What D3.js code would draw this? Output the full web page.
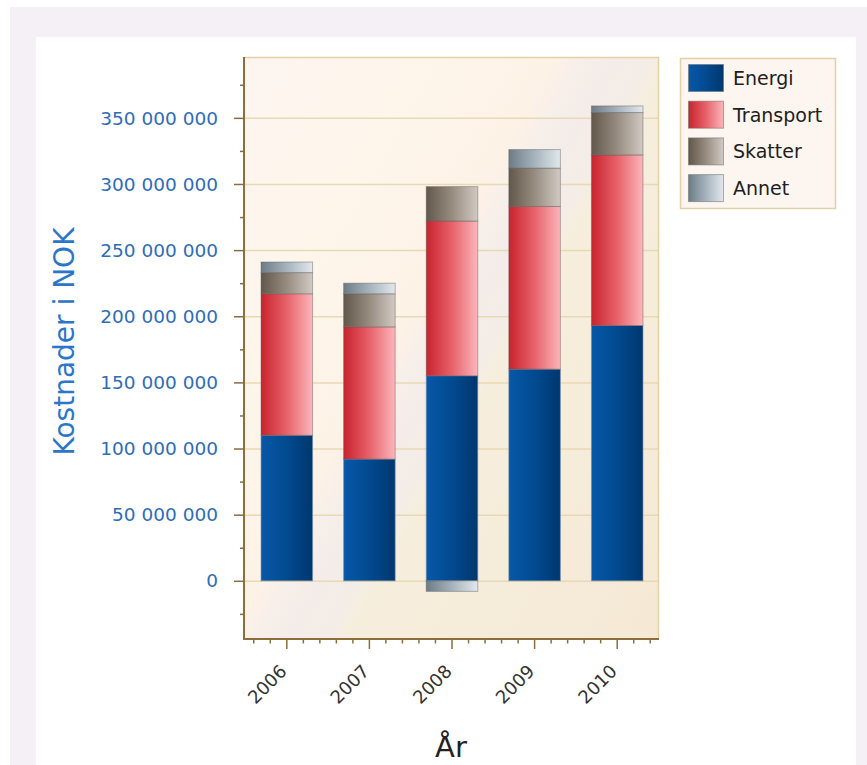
<!DOCTYPE html>
<html>
<head>
<meta charset="utf-8">
<script src="https://cdn.jsdelivr.net/npm/d3@7"></script>
<style>
  html, body { margin: 0; padding: 0; background: #ffffff; }
  svg { display: block; }
  text { font-family: "DejaVu Sans", Verdana, sans-serif; }
</style>
</head>
<body>
<svg id="chart" width="867" height="765"></svg>
<script>
// ---- data ----
const years = ["2006", "2007", "2008", "2009", "2010"];
const seriesNames = ["Energi", "Transport", "Skatter", "Annet"];
const energi    = [110e6,  92e6, 155e6, 160e6, 193e6];
const transport = [107e6, 100e6, 117e6, 123e6, 129e6];
const skatter   = [ 16e6,  25e6,  26e6,  29e6,  32e6];
const annet     = [  8e6,   8e6,  -8e6,  14e6,   5e6];
const yMajorTicks = [0, 50e6, 100e6, 150e6, 200e6, 250e6, 300e6, 350e6];
const yMinorTicks = [-25e6, 25e6, 75e6, 125e6, 175e6, 225e6, 275e6, 325e6, 375e6];
const yTitle = "Kostnader i NOK";
const xTitle = "År";

// gradient colours per series [left, mid, right]
const seriesGrad = {
  Energi:    ["#0758a8", "#024a90", "#00376e"],
  Transport: ["#c8232e", "#e7626a", "#fbb6bb"],
  Skatter:   ["#62574b", "#978c80", "#d1cac3"],
  Annet:     ["#6c7c87", "#a6b3bc", "#e2e8ed"]
};

const svg = d3.select("#chart");
const defs = svg.append("defs");

// backgrounds
svg.append("rect").attr("x", 10).attr("y", 7).attr("width", 857).attr("height", 758).attr("fill", "#f5f0f5");
svg.append("rect").attr("x", 36).attr("y", 37).attr("width", 820).attr("height", 728).attr("fill", "#ffffff");

// plot area
const plot = { left: 244, right: 659, top: 57, bottom: 639 };

// plot background gradient (glass effect)
const bg = defs.append("linearGradient").attr("id", "plotBg")
  .attr("gradientUnits", "userSpaceOnUse")
  .attr("x1", 244).attr("y1", 57).attr("x2", 808).attr("y2", 373);
[[0, "#fdf5f0"], [0.24, "#fef6eb"], [0.42, "#fdf2e6"], [0.455, "#f7efea"],
 [0.5, "#f4ece8"], [0.55, "#f4ede7"], [0.575, "#f6eedd"], [1, "#f5e9d5"]]
  .forEach(([o, c]) => bg.append("stop").attr("offset", o).attr("stop-color", c));

svg.append("rect")
  .attr("x", plot.left).attr("y", plot.top)
  .attr("width", plot.right - plot.left).attr("height", plot.bottom - plot.top)
  .attr("fill", "url(#plotBg)");

// series gradients
seriesNames.forEach((s, i) => {
  const g = defs.append("linearGradient").attr("id", "grad" + i)
    .attr("x1", 0).attr("y1", 0).attr("x2", 1).attr("y2", 0);
  g.append("stop").attr("offset", 0).attr("stop-color", seriesGrad[s][0]);
  g.append("stop").attr("offset", 0.5).attr("stop-color", seriesGrad[s][1]);
  g.append("stop").attr("offset", 1).attr("stop-color", seriesGrad[s][2]);
});

// scales
const x = d3.scaleBand().domain(years).range([245, 658]).paddingInner(0.376).paddingOuter(0.188);
const y = d3.scaleLinear().domain([-44e6, 396e6]).range([plot.bottom, plot.top]);

// gridlines
svg.append("g").selectAll("line").data(yMajorTicks).join("line")
  .attr("x1", plot.left).attr("x2", plot.right)
  .attr("y1", d => y(d) + 0.5).attr("y2", d => y(d) + 0.5)
  .attr("stroke", "#e8d9b6").attr("stroke-width", 1.5);

// plot border (top/right)
svg.append("path")
  .attr("d", `M${plot.left},${plot.top + 0.5}H${plot.right - 0.5}V${plot.bottom}`)
  .attr("fill", "none").attr("stroke", "#e2d1a5").attr("stroke-width", 1.5);

// stacked data
const rows = years.map((yr, i) => ({
  year: yr, Energi: energi[i], Transport: transport[i], Skatter: skatter[i], Annet: annet[i]
}));
const stack = d3.stack().keys(seriesNames).offset(d3.stackOffsetDiverging);
const stacked = stack(rows);

const barsG = svg.append("g");
stacked.forEach((layer, si) => {
  barsG.append("g").selectAll("rect").data(layer.filter(d => d[1] !== d[0])).join("rect")
    .attr("x", d => x(d.data.year) + 0.5)
    .attr("width", x.bandwidth())
    .attr("y", d => y(Math.max(d[0], d[1])))
    .attr("height", d => Math.abs(y(d[0]) - y(d[1])))
    .attr("fill", `url(#grad${si})`)
    .attr("stroke", si === 0 ? "rgba(120,140,170,0.6)" : "rgba(90,90,90,0.45)")
    .attr("stroke-width", 1);
});

// y axis
const axisColor = "#8c6d3b";
const yAxis = svg.append("g");
yAxis.append("line").attr("x1", plot.left).attr("x2", plot.left)
  .attr("y1", plot.top).attr("y2", plot.bottom + 1)
  .attr("stroke", axisColor).attr("stroke-width", 2);
yAxis.selectAll(".maj").data(yMajorTicks).join("line").attr("class", "maj")
  .attr("x1", plot.left - 10).attr("x2", plot.left)
  .attr("y1", d => y(d) + 0.5).attr("y2", d => y(d) + 0.5)
  .attr("stroke", axisColor).attr("stroke-width", 1.5);
yAxis.selectAll(".min").data(yMinorTicks).join("line").attr("class", "min")
  .attr("x1", plot.left - 4).attr("x2", plot.left)
  .attr("y1", d => y(d) + 0.5).attr("y2", d => y(d) + 0.5)
  .attr("stroke", axisColor).attr("stroke-width", 1.5);
const fmt = v => d3.format(",")(v).replace(/,/g, " ");
yAxis.selectAll("text").data(yMajorTicks).join("text")
  .attr("x", 218).attr("y", d => y(d)).attr("dy", "0.36em")
  .attr("text-anchor", "end")
  .attr("font-size", 18.5).attr("fill", "#2e6db8")
  .text(fmt);

// x axis
const xAxis = svg.append("g");
xAxis.append("line").attr("x1", plot.left - 1).attr("x2", plot.right)
  .attr("y1", plot.bottom).attr("y2", plot.bottom)
  .attr("stroke", axisColor).attr("stroke-width", 2);
const step = x.step();
const centers = years.map(yr => x(yr) + x.bandwidth() / 2 + 0.5);
xAxis.selectAll(".maj").data(centers).join("line").attr("class", "maj")
  .attr("x1", d => d).attr("x2", d => d)
  .attr("y1", plot.bottom).attr("y2", plot.bottom + 10)
  .attr("stroke", axisColor).attr("stroke-width", 1.5);
const minorX = [];
centers.forEach(c => [-2, -1, 1, 2].forEach(k => minorX.push(c + k * step / 5)));
xAxis.selectAll(".min").data(minorX.filter(v => v > plot.left && v < plot.right)).join("line").attr("class", "min")
  .attr("x1", d => d).attr("x2", d => d)
  .attr("y1", plot.bottom).attr("y2", plot.bottom + 4.5)
  .attr("stroke", axisColor).attr("stroke-width", 1.5);
xAxis.selectAll("text").data(years).join("text")
  .attr("transform", d => `translate(${x(d) + x.bandwidth() / 2 + 1.5},672.5) rotate(-45)`)
  .attr("text-anchor", "end")
  .attr("font-size", 18).attr("fill", "#333333")
  .text(d => d);

// axis titles
svg.append("text")
  .attr("transform", "translate(74,341.5) rotate(-90)")
  .attr("text-anchor", "middle")
  .attr("font-size", 28).attr("fill", "#2b76c9")
  .text(yTitle);
svg.append("text")
  .attr("x", 451).attr("y", 757)
  .attr("text-anchor", "middle")
  .attr("font-size", 29).attr("fill", "#222222")
  .text(xTitle);

// legend
const lg = svg.append("g");
lg.append("rect").attr("x", 680.5).attr("y", 58.5).attr("width", 155).attr("height", 150)
  .attr("fill", "#fdf5ef").attr("stroke", "#e2d1a5").attr("stroke-width", 1.5);
const items = lg.selectAll("g").data(seriesNames).join("g")
  .attr("transform", (d, i) => `translate(688,${64 + i * 36.7})`);
items.append("rect").attr("x", 0.5).attr("y", 0.5).attr("width", 35).attr("height", 27)
  .attr("fill", (d, i) => `url(#grad${i})`)
  .attr("stroke", "rgba(110,110,110,0.55)").attr("stroke-width", 1);
items.append("text").attr("x", 45).attr("y", 14).attr("dy", "0.36em")
  .attr("font-size", 19).attr("fill", "#1e1e1e")
  .text(d => d);
</script>
</body>
</html>
